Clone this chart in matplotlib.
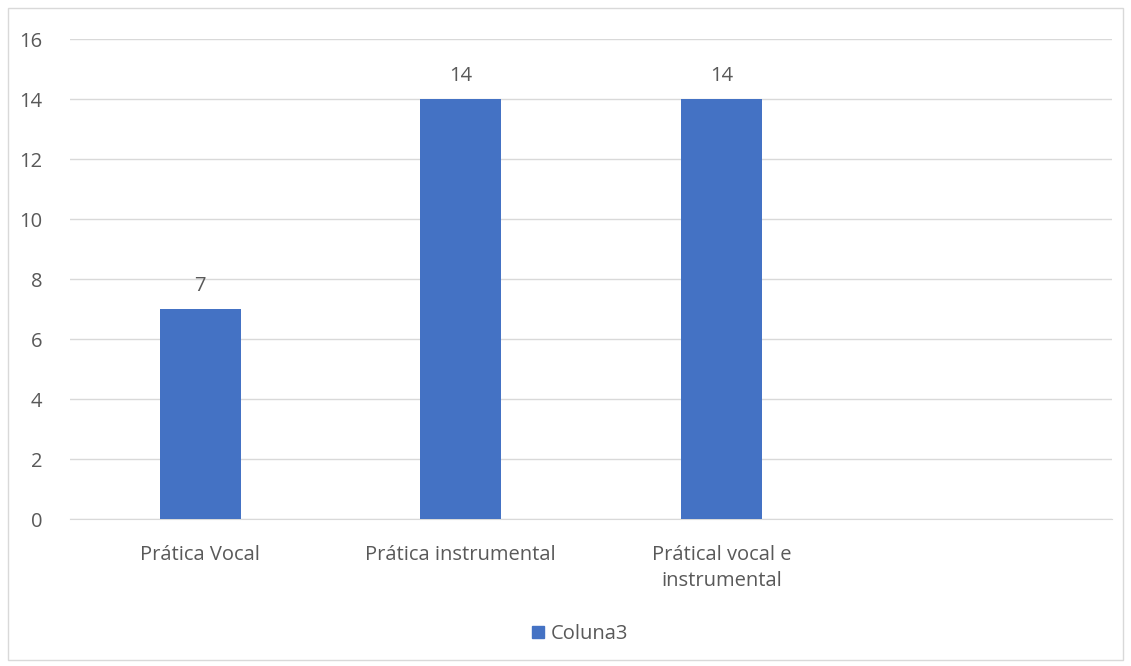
import matplotlib

matplotlib.use("Agg")
import matplotlib.pyplot as plt
from matplotlib.patches import Rectangle

categories = ["Prática Vocal", "Prática instrumental", "Prátical vocal e\ninstrumental", ""]
values = [7, 14, 14, None]
series_name = "Coluna3"

BAR = "#4472C4"
TXT = "#595959"
GRID = "#D9D9D9"
FS = 14.5

plt.rcParams["font.family"] = ["Open Sans", "DejaVu Sans"]

fig = plt.figure(figsize=(11.31, 6.66), dpi=100)
fig.patches.append(Rectangle((0.007, 0.009), 0.986, 0.979, transform=fig.transFigure,
                             fill=False, edgecolor=GRID, lw=1))
ax = fig.add_axes([0.0619, 0.2207, 0.9213, 0.7207])

xs = list(range(len(categories)))
for x, v in zip(xs, values):
    if v is None:
        continue
    ax.bar(x, v, width=0.31, color=BAR, zorder=3)
    ax.text(x, v + 0.45, f"{v}", ha="center", va="bottom", fontsize=FS, color=TXT)

ax.set_xlim(-0.5, len(categories) - 0.5)
ax.set_ylim(0, 16)
ax.set_yticks(range(0, 17, 2))
ax.set_xticks(xs)
ax.set_xticklabels(categories, fontsize=FS, color=TXT, linespacing=1.35)
ax.tick_params(axis="y", labelsize=FS, colors=TXT, length=0, pad=20)
ax.tick_params(axis="x", length=0, pad=19)
ax.grid(axis="y", color=GRID, lw=1, zorder=0)
for s in ["top", "right", "left"]:
    ax.spines[s].set_visible(False)
ax.spines["bottom"].set_color(GRID)

handle = Rectangle((0, 0), 1, 1, color=BAR)
fig.legend([handle], [series_name], loc="center", bbox_to_anchor=(0.513, 0.048),
           frameon=False, fontsize=FS, labelcolor=TXT, handlelength=0.6,
           handleheight=0.6, handletextpad=0.3)

fig.savefig("out.png", dpi=100)
